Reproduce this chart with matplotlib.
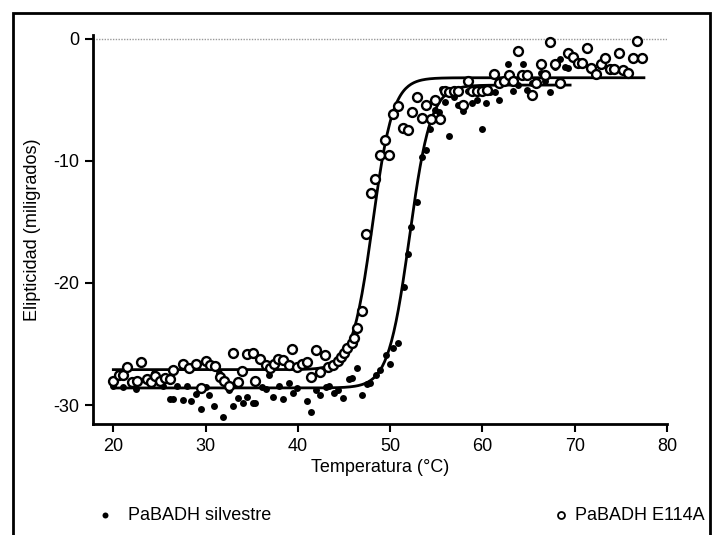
import numpy as np
import matplotlib
matplotlib.use("Agg")
import matplotlib.pyplot as plt
from matplotlib.patches import Rectangle
from matplotlib.lines import Line2D

plt.rcParams['font.family'] = ['Liberation Sans', 'DejaVu Sans']
plt.rcParams['axes.unicode_minus'] = False
FS = 13

# ---- data ----
e114a_x = [20.0, 20.6, 21.1, 21.5, 22.0, 22.6, 23.0, 23.6, 24.1, 24.5, 25.1, 25.6, 26.1, 26.5,
           27.6, 28.2, 29.0, 29.5, 30.0, 30.5, 31.0, 31.6, 32.0, 32.5, 33.0, 33.5, 34.0, 34.5,
           35.1, 35.4, 35.9, 36.5, 37.0, 37.4, 37.9, 38.4, 39.0, 39.4, 39.9, 40.5, 41.0, 41.4,
           42.0, 42.4, 42.9, 43.3, 43.8, 44.3, 44.7, 45.0, 45.3, 45.9, 46.1, 46.4, 46.9, 47.4,
           47.9, 48.4, 48.9, 49.4, 49.9, 50.3, 50.9, 51.4, 51.9, 52.4, 52.9, 53.4, 53.9, 54.4,
           54.9, 55.4, 55.9, 56.4, 56.9, 57.4, 57.9, 58.4, 58.9, 59.4, 59.9, 60.5, 61.2, 61.8,
           62.3, 62.9, 63.3, 63.9, 64.3, 64.8, 65.4, 65.8, 66.3, 66.8, 67.3, 67.9, 68.4, 69.3,
           69.8, 70.4, 70.8, 71.3, 71.8, 72.3, 72.9, 73.3, 73.8, 74.3, 74.8, 75.2, 75.8, 76.3,
           76.8, 77.3]
e114a_y = [-28.0, -27.5, -27.5, -26.9, -28.1, -28.0, -26.5, -27.9, -28.1, -27.6, -28.0, -27.8, -27.9, -27.1,
           -26.6, -27.0, -26.6, -28.6, -26.4, -26.7, -26.8, -27.7, -28.0, -28.4, -25.7, -28.1, -27.2, -25.8,
           -25.7, -28.0, -26.2, -26.7, -27.0, -26.6, -26.2, -26.3, -26.7, -25.4, -26.9, -26.6, -26.5, -27.7,
           -25.5, -27.3, -25.9, -26.9, -26.7, -26.4, -26.1, -25.7, -25.3, -24.9, -24.5, -23.7, -22.3, -16.0,
           -12.6, -11.5, -9.5, -8.3, -9.5, -6.2, -5.5, -7.3, -7.5, -6.0, -4.8, -6.5, -5.4, -6.6,
           -5.0, -6.6, -4.3, -4.4, -4.3, -4.3, -5.4, -3.5, -4.3, -4.3, -4.3, -4.2, -2.9, -3.6,
           -3.5, -3.0, -3.5, -1.0, -3.0, -3.0, -4.6, -3.6, -2.1, -3.0, -0.3, -2.1, -3.6, -1.2,
           -1.5, -2.0, -2.0, -0.8, -2.4, -2.9, -2.1, -1.6, -2.5, -2.5, -1.2, -2.6, -2.8, -1.6,
           -0.2, -1.6]

wt_x = [20.0, 21.1, 22.5, 24.4, 25.1, 25.4, 26.1, 26.5, 26.9, 27.5, 28.0, 28.4, 29.0, 29.5,
        30.0, 30.4, 30.9, 31.5, 31.9, 32.5, 33.0, 33.5, 34.1, 34.5, 35.1, 35.4, 36.1, 36.5,
        36.9, 37.3, 38.0, 38.4, 39.0, 39.5, 39.9, 41.0, 41.4, 42.0, 42.4, 43.0, 43.4, 43.9,
        44.4, 44.9, 45.5, 45.9, 46.4, 47.0, 47.5, 47.8, 48.5, 48.9, 49.5, 50.0, 50.3, 50.9,
        51.5, 51.9, 52.3, 52.9, 53.4, 53.9, 54.3, 54.9, 55.3, 55.6, 55.9, 56.4, 56.9, 57.4,
        57.9, 58.4, 58.9, 59.4, 59.9, 60.4, 60.8, 61.4, 61.8, 62.8, 63.3, 63.8, 64.4, 64.8,
        65.4, 65.9, 66.3, 66.8, 67.3, 67.9, 68.4, 69.0, 69.3]
wt_y = [-28.4, -28.5, -28.7, -27.4, -27.9, -28.4, -29.5, -29.5, -28.4, -29.6, -28.4, -29.7, -29.1, -30.3,
        -28.5, -29.2, -30.1, -27.4, -31.0, -28.8, -30.1, -29.4, -29.8, -29.3, -29.8, -29.8, -28.5, -28.7,
        -27.5, -29.3, -28.4, -29.5, -28.2, -29.0, -28.6, -29.7, -30.6, -28.8, -29.2, -28.5, -28.4, -29.0,
        -28.8, -29.4, -27.9, -27.8, -27.0, -29.2, -28.3, -28.2, -27.5, -27.1, -25.9, -26.6, -25.3, -24.9,
        -20.3, -17.6, -15.4, -13.4, -9.7, -9.1, -7.4, -5.8, -6.0, -4.1, -5.2, -8.0, -4.8, -5.4,
        -5.9, -4.3, -5.3, -5.0, -7.4, -5.3, -4.4, -4.4, -5.0, -2.1, -4.3, -3.8, -2.1, -4.2,
        -3.6, -3.6, -2.8, -3.5, -4.4, -2.3, -1.7, -2.3, -2.4]

# Boltzmann fit parameters (bottom, top, Tm, slope) and fitted range
wt_fit = (-28.6, -3.8, 52.1, 1.15)
wt_range = (20.0, 69.5)
e114a_fit = (-27.1, -3.2, 48.1, 1.1)
e114a_range = (20.0, 77.5)

x_ticks = [20, 30, 40, 50, 60, 70, 80]
y_ticks = [0, -10, -20, -30]
x_label = "Temperatura (°C)"
y_label = "Elipticidad (miligrados)"
legend_labels = ["PaBADH silvestre", "PaBADH E114A"]


def boltzmann(x, p):
    b, t, tm, s = p
    return b + (t - b) / (1.0 + np.exp((tm - x) / s))


W, H = 723, 535
fig = plt.figure(figsize=(W / 100, H / 100), dpi=100)
ax = fig.add_axes([93 / W, 1 - 424 / H, (667 - 93) / W, (424 - 35) / H])

ax.set_xlim(17.8, 80)
ax.set_ylim(-31.55, 0.3)

ax.axhline(0, color='#999999', lw=1.0, ls=(0, (1, 1)), zorder=1)

xx = np.linspace(*wt_range, 400)
ax.plot(xx, boltzmann(xx, wt_fit), color='black', lw=2.0, zorder=2)
xx2 = np.linspace(*e114a_range, 400)
ax.plot(xx2, boltzmann(xx2, e114a_fit), color='black', lw=2.0, zorder=2)

ax.plot(wt_x, wt_y, 'o', color='black', ms=5.0, mew=0, zorder=3)
ax.plot(e114a_x, e114a_y, 'o', mfc='white', mec='black', ms=6.4, mew=1.7, zorder=4)

ax.set_xticks(x_ticks)
ax.set_yticks(y_ticks)
ax.tick_params(direction='out', length=6, width=1.5, labelsize=FS, pad=4)
for s in ['top', 'right']:
    ax.spines[s].set_visible(False)
for s in ['left', 'bottom']:
    ax.spines[s].set_linewidth(2)
ax.set_xlabel(x_label, fontsize=FS, labelpad=3)
ax.set_ylabel(y_label, fontsize=FS, labelpad=9)

# legend along the bottom
fig.lines.append(Line2D([105 / W], [1 - 515 / H], transform=fig.transFigure, marker='o',
                        color='black', ms=4.3, mew=0, ls='none'))
fig.text(128 / W, 1 - 515 / H, legend_labels[0], fontsize=FS, va='center', ha='left')
fig.lines.append(Line2D([561 / W], [1 - 515 / H], transform=fig.transFigure, marker='o',
                        mfc='white', mec='black', ms=5.0, mew=1.3, ls='none'))
fig.text(705 / W, 1 - 515 / H, legend_labels[1], fontsize=FS, va='center', ha='right')

# outer frame
fig.patches.append(Rectangle((13 / W, -0.05), (710 - 13) / W, 1 - 13 / H + 0.05,
                             transform=fig.transFigure, fill=False, ec='black', lw=2))

fig.savefig("out.png", dpi=100)
